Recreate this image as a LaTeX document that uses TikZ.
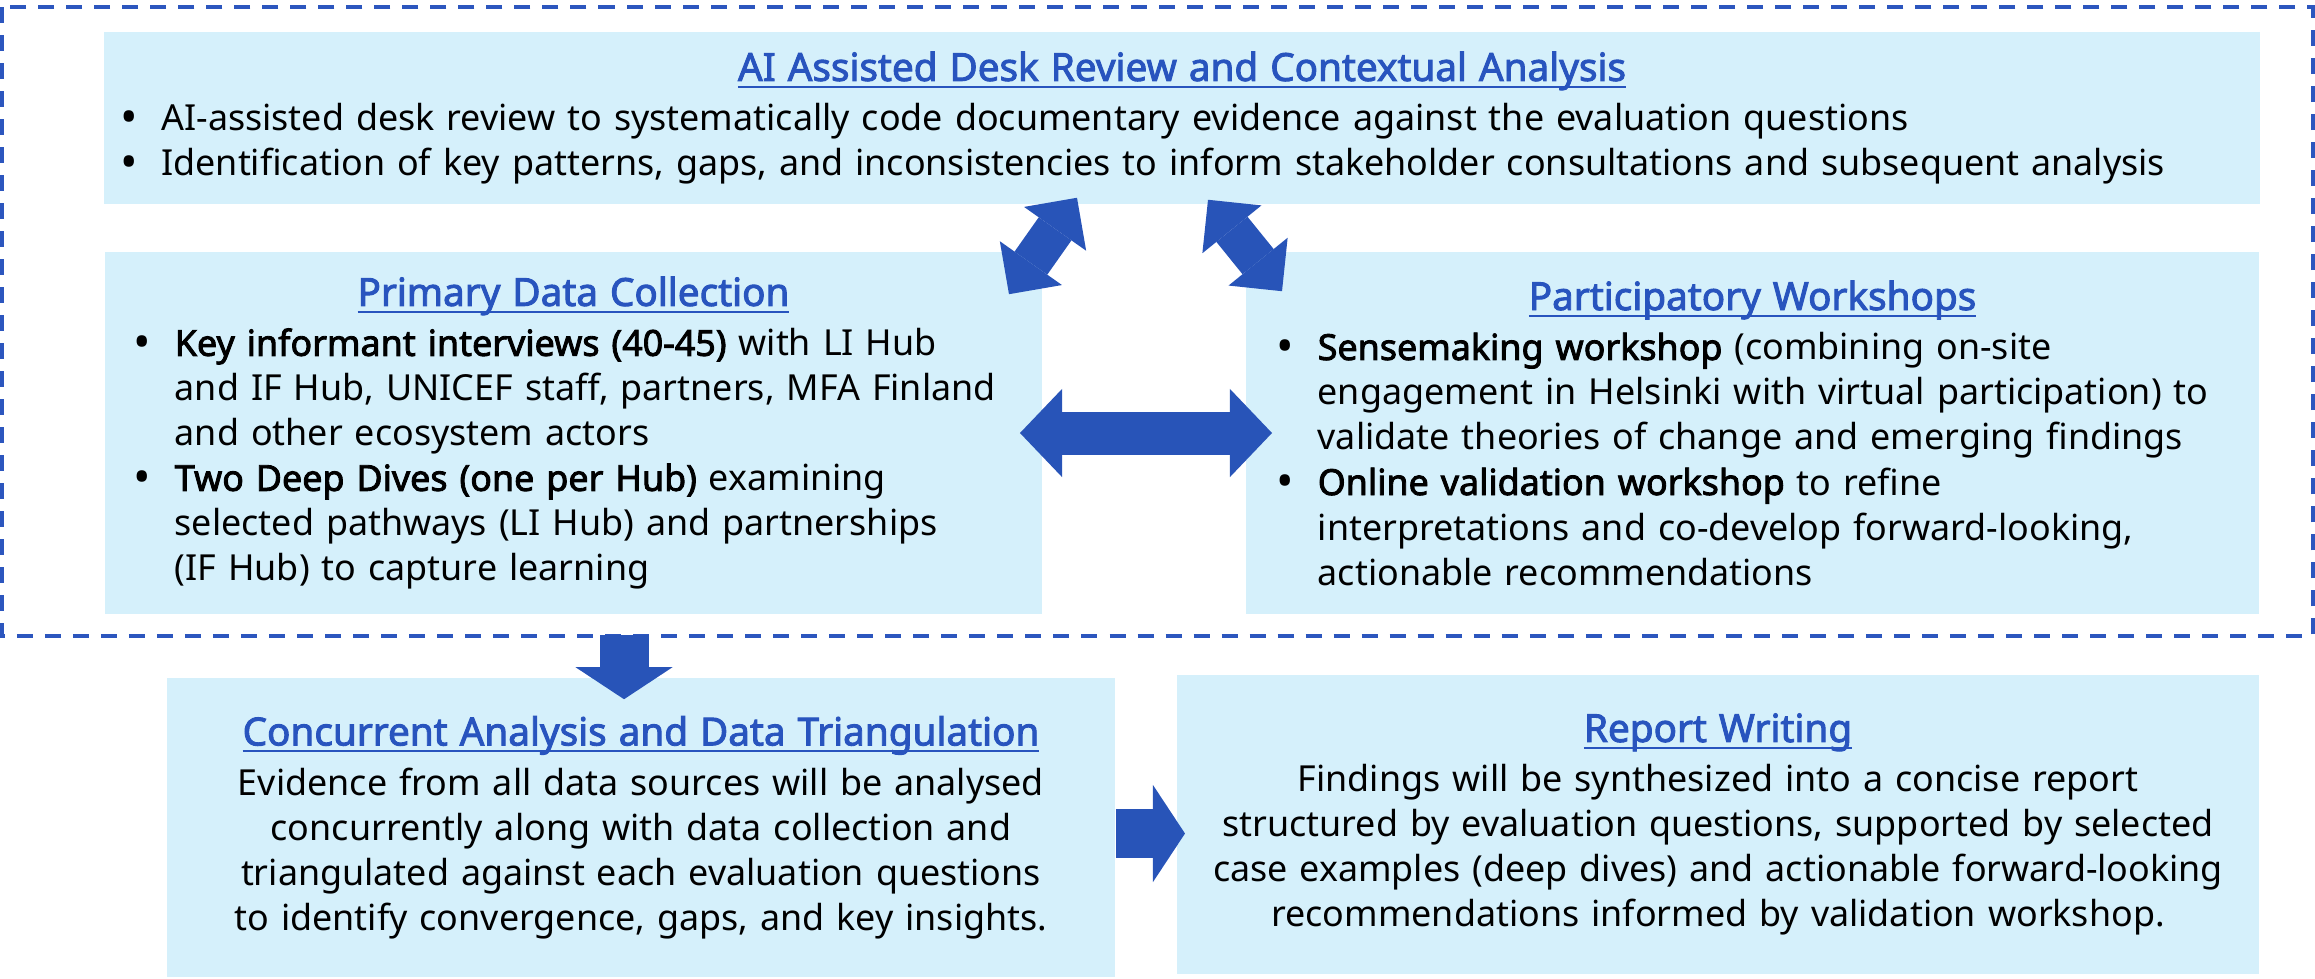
\documentclass[tikz,border=0pt]{standalone}
\usepackage{fontspec}
\setmainfont{Noto Sans}[AutoFakeBold=2.4]
\usepackage{graphicx}
\usepackage{tikz}
\usetikzlibrary{arrows.meta,calc}
\definecolor{frameblue}{RGB}{44,86,190}
\definecolor{headblue}{RGB}{40,84,190}
\definecolor{arrowblue}{RGB}{40,84,184}
\definecolor{boxcyan}{RGB}{213,240,251}
\newlength{\bltskip}
\newsavebox{\hdbox}
\newcommand{\hdline}[1]{\leavevmode\sbox{\hdbox}{#1}\rlap{\rule[-2pt]{\wd\hdbox}{0.65pt}}\usebox{\hdbox}}
\newcommand{\hd}[1]{{\centering\fontsize{11}{12.8}\selectfont\textcolor{headblue}{\bfseries\hdline{#1}}\par}\vspace{1.4pt}}
\newcommand{\blt}{\par\leftskip=\bltskip\hangindent=0.41cm\hangafter=1\noindent\makebox[0.41cm][l]{\raisebox{-0.75pt}{\scalebox{1.3}{\textbullet}}}}
\tikzset{
  stage/.style={rectangle,fill=boxcyan,inner sep=0pt,align=left,font=\fontsize{10.2}{12.8}\selectfont},
  bulletindent/.style={execute at begin node={\setlength{\bltskip}{#1}}},
  framedash/.style={draw=frameblue,line width=0.04cm,dash pattern=on 0.16cm off 0.12cm},
  fatarr/.style={arrowblue,line width=0.49cm,-{Triangle[length=0.32cm,width=0.97cm,line width=0pt]}},
  twowayarr/.style={arrowblue,line width=0.43cm,{Triangle[length=0.42cm,width=0.88cm,line width=0pt]}-{Triangle[length=0.42cm,width=0.88cm,line width=0pt]}},
  slantarr/.style={arrowblue,line width=0.40cm,{Triangle[length=0.38cm,width=0.76cm,line width=0pt]}-{Triangle[length=0.38cm,width=0.76cm,line width=0pt]}}
}

\begin{document}
\begin{tikzpicture}[x=0.01cm,y=-0.01cm]
\useasboundingbox (0,0) rectangle (2315,978);

\node[stage,bulletindent=0.16cm,minimum width=21.54cm,text width=21.54cm,minimum height=1.72cm] (review) at (1182,118) {%
  \hd{AI Assisted Desk Review and Contextual Analysis}
  \blt AI-assisted desk review to systematically code documentary evidence against the evaluation questions
  \blt Identification of key patterns, gaps, and inconsistencies to inform stakeholder consultations and subsequent analysis\par};

\node[stage,bulletindent=0.29cm,minimum width=9.37cm,text width=9.37cm,minimum height=3.62cm] (primary) at (573.5,433) {%
  \hd{Primary Data Collection}
  \blt \textbf{Key informant interviews (40-45)} with LI Hub\newline
  and IF Hub, UNICEF staff, partners, MFA Finland\newline
  and other ecosystem actors
  \blt \textbf{Two Deep Dives (one per Hub)} examining\newline
  selected pathways (LI Hub) and partnerships\newline
  (IF Hub) to capture learning\par};

\node[stage,bulletindent=0.31cm,minimum width=10.13cm,text width=10.13cm,minimum height=3.62cm] (partic) at (1752.5,433) {%
  \hd{Participatory Workshops}
  \blt \textbf{Sensemaking workshop} (combining on-site\newline
  engagement in Helsinki with virtual participation) to\newline
  validate theories of change and emerging findings
  \blt \textbf{Online validation workshop} to refine\newline
  interpretations and co-develop forward-looking,\newline
  actionable recommendations\par};

\node[stage,align=center,minimum width=9.48cm,text width=9.48cm,minimum height=2.99cm] (concur) at (641,827.5) {%
  \hd{Concurrent Analysis and Data Triangulation}
  Evidence from all data sources will be analysed\\
  concurrently along with data collection and\\
  triangulated against each evaluation questions\\
  to identify convergence, gaps, and key insights.};

\node[stage,align=center,minimum width=10.82cm,text width=10.82cm,minimum height=2.99cm] (report) at (1718,824.5) {%
  \hd{Report Writing}
  Findings will be synthesized into a concise report\\
  structured by evaluation questions, supported by selected\\
  case examples (deep dives) and actionable forward-looking\\
  recommendations informed by validation workshop.};

\draw[framedash] (1.5,7) rectangle (2312.5,636);

\draw[slantarr] ($(primary.north east)+(-34,43)$) -- ($(review.south)+(-105,-7)$);
\draw[slantarr] ($(review.south)+(26,-5)$) -- ($(partic.north west)+(37,40)$);
\draw[twowayarr] ($(primary.east)+(-23,0)$) -- ($(partic.west)+(27,0)$);
\draw[fatarr] ($(concur.north west)+(458,-42)$) -- ($(concur.north west)+(458,22)$);
\draw[fatarr] ($(concur.east)+(0,6)$) -- ($(report.west)+(9,9)$);
\end{tikzpicture}
\end{document}
